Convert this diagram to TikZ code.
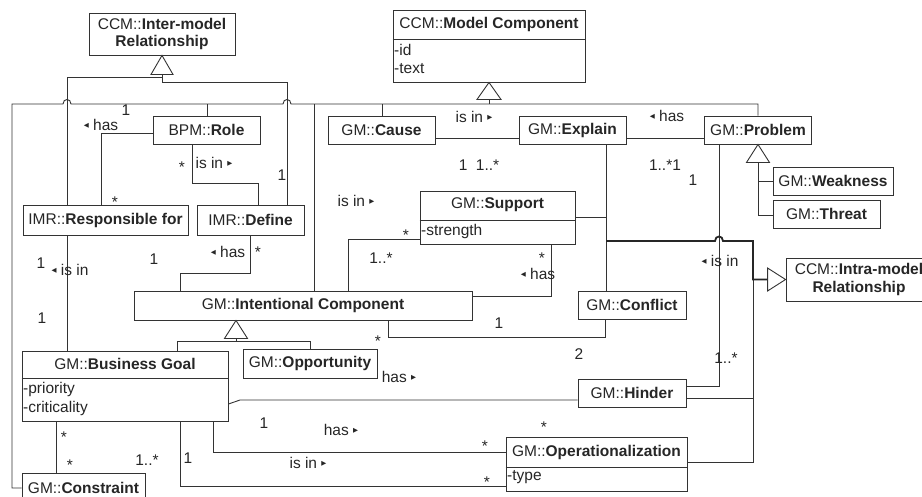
\documentclass[tikz,border=0pt]{standalone}
\usepackage{fontspec}
\setmainfont{Liberation Sans}
\newfontfamily\djv{DejaVu Sans}
\newcommand{\tril}{\raisebox{2.8pt}{\djv\fontsize{6.5}{6.5}\selectfont ◀}}
\newcommand{\trir}{\raisebox{2.8pt}{\djv\fontsize{6.5}{6.5}\selectfont ▶}}
\begin{document}
\begin{tikzpicture}[x=1pt,y=-1pt,
  box/.style={draw=black!80, line width=0.9pt, inner sep=0pt, fill=white, text=black!85},
  lbl/.style={inner sep=0pt, text=black!85},
  conn/.style={draw=black!80, line width=0.9pt},
  thickconn/.style={draw=black!85, line width=1.8pt},
  tri/.style={draw=black!80, line width=0.9pt, fill=white},
  font=\fontsize{15.5}{17.5}\selectfont]
\useasboundingbox (0,0) rectangle (922,496);

% ---------- boxes ----------
\node[box, minimum width=146pt, minimum height=42pt, align=center] (inter) at (162,34)
  {CCM::\textbf{Inter-model}\\\textbf{Relationship}};
\node[box, minimum width=192pt, minimum height=72pt] (mc) at (489,46) {};
\draw[conn] (mc.west |- 0,39) -- (mc.east |- 0,39);
\node[lbl] (mct) at (489,24) {CCM::\textbf{Model Component}};
\node[lbl, anchor=west] (mca) at (394,50) {-id};
\node[lbl, anchor=west] (mcb) at (394,69) {-text};

\node[box, minimum width=107pt, minimum height=28pt] (role) at (206.5,130) {BPM::\textbf{Role}};
\node[box, minimum width=107pt, minimum height=28pt] (cause) at (381.5,130) {GM::\textbf{Cause}};
\node[box, minimum width=107pt, minimum height=28pt] (explain) at (572.5,130) {GM::\textbf{Explain}};
\node[box, minimum width=107pt, minimum height=28pt] (problem) at (758,130) {GM::\textbf{Problem}};
\node[box, minimum width=120pt, minimum height=28pt] (weak) at (833,181) {GM::\textbf{Weakness}};
\node[box, minimum width=107pt, minimum height=28pt] (threat) at (826.5,214) {GM::\textbf{Threat}};
\node[box, minimum width=165pt, minimum height=30pt] (resp) at (105.5,220) {IMR::\textbf{Responsible for}};
\node[box, minimum width=107pt, minimum height=30pt] (define) at (250.5,220) {IMR::\textbf{Define}};

\node[box, minimum width=155pt, minimum height=53pt] (support) at (497.5,217.5) {};
\draw[conn] (support.west |- 0,220) -- (support.east |- 0,220);
\node[lbl] (supt) at (497.5,205) {GM::\textbf{Support}};
\node[lbl, anchor=west] (supa) at (421,231) {-strength};

\node[box, minimum width=338pt, minimum height=29pt] (ic) at (303,305.5) {GM::\textbf{Intentional Component}};
\node[box, minimum width=108pt, minimum height=28pt] (conflict) at (632,305) {GM::\textbf{Conflict}};
\node[box, minimum width=146pt, minimum height=43pt, align=center] (intra) at (859,279.5)
  {CCM::\textbf{Intra-model}\\\textbf{Relationship}};

\node[box, minimum width=206pt, minimum height=70pt] (bg) at (125,386) {};
\draw[conn] (bg.west |- 0,378) -- (bg.east |- 0,378);
\node[lbl] (bgt) at (125,364) {GM::\textbf{Business Goal}};
\node[lbl, anchor=west] (bga) at (23,389) {-priority};
\node[lbl, anchor=west] (bgb) at (23,408) {-criticality};

\node[box, minimum width=134pt, minimum height=29pt] (opp) at (310,363.5) {GM::\textbf{Opportunity}};
\node[box, minimum width=108pt, minimum height=28pt] (hinder) at (632,393) {GM::\textbf{Hinder}};

\node[box, minimum width=181pt, minimum height=54pt] (oper) at (596.5,464) {};
\draw[conn] (oper.west |- 0,467) -- (oper.east |- 0,467);
\node[lbl] (opert) at (596.5,452) {GM::\textbf{Operationalization}};
\node[lbl, anchor=west] (opera) at (507,477) {-type};

\node[box, minimum width=123pt, minimum height=32pt] (constraint) at (83.5,489) {};
\node[lbl] (cont) at (83.5,488) {GM::\textbf{Constraint}};

% ---------- generalization: inter-model ----------
\draw[conn] (162,74) -- (162,82);
\draw[conn] (162,77) -- (67,77) -- (67,0 |- resp.north);
\draw[conn] (162,82) -- (287,82) -- (287,0 |- define.north);
\draw[tri] (inter.south) -- ++(-11,19) -- ++(22,0) -- cycle;

% ---------- generalization: model component ----------
\draw[conn] (489,99) -- (489,104);
\draw[conn] (constraint.west |- 0,488) -- (12,488) -- (12,104) -- (63,104)
  .. controls (63,98) and (71,98) .. (71,104) -- (283,104)
  .. controls (283,98) and (291,98) .. (291,104) -- (758,104) -- (problem.north);
\draw[conn] (207,104) -- (207,0 |- role.north);
\draw[conn] (314,104) -- (314,0 |- ic.north);
\draw[conn] (382,104) -- (382,0 |- cause.north);
\draw[tri] (mc.south) -- ++(-12,17) -- ++(24,0) -- cycle;

% ---------- generalization: problem ----------
\draw[conn] (758,162) -- (758,215) -- (threat.west |- 0,215);
\draw[conn] (758,181) -- (weak.west |- 0,181);
\draw[tri] (problem.south) -- ++(-11.5,18) -- ++(23,0) -- cycle;

% ---------- generalization: intentional component ----------
\draw[conn] (236,338) -- (236,341);
\draw[conn] (177,0 |- bg.north) -- (177,341) -- (310,341) -- (310,0 |- opp.north);
\draw[tri] (236,0 |- ic.south) -- ++(-11.5,18) -- ++(23,0) -- cycle;

% ---------- generalization: intra-model ----------
\draw[conn] (606,0 |- explain.south) -- (606,0 |- conflict.north);
\draw[conn] (support.east |- 0,217) -- (606,217);
\draw[conn] (753,279) -- (753,462) -- (oper.east |- 0,462);
\draw[conn] (753,398) -- (hinder.east |- 0,398);
\draw[conn] (719,0 |- problem.south) -- (719,386) -- (hinder.east |- 0,386);
\draw[thickconn] (768,279.5) -- (753,279.5) -- (753,241) -- (723,241)
  .. controls (723,235) and (715,235) .. (715,241) -- (606,241);
\draw[tri] (intra.west) -- ++(-18,-11.5) -- ++(0,23) -- cycle;

% ---------- associations ----------
\draw[conn] (role.west |- 0,133) -- (101,133) -- (101,0 |- resp.north);
\draw[conn] (192,0 |- role.south) -- (192,183) -- (258,183) -- (258,0 |- define.north);
\draw[conn] (67,0 |- resp.south) -- (67,0 |- bg.north);
\draw[conn] (250,0 |- define.south) -- (250,273) -- (180,273) -- (180,0 |- ic.north);
\draw[conn] (cause.east |- 0,138) -- (explain.west |- 0,138);
\draw[conn] (explain.east |- 0,138) -- (problem.west |- 0,138);
\draw[conn] (support.west |- 0,239) -- (348,239) -- (348,0 |- ic.north);
\draw[conn] (551,0 |- support.south) -- (551,296) -- (ic.east |- 0,296);
\draw[conn] (388,0 |- ic.south) -- (388,337) -- (605,337) -- (605,0 |- conflict.south);
\draw[conn] (bg.east |- 0,404) -- (240,400) -- (hinder.west |- 0,400);
\draw[conn] (213,0 |- bg.south) -- (213,452) -- (oper.west |- 0,452);
\draw[conn] (180,0 |- bg.south) -- (180,486) -- (oper.west |- 0,486);
\draw[conn] (56,0 |- bg.south) -- (56,0 |- constraint.north);

% ---------- labels ----------
\node[lbl] (l1) at (126,110) {1};
\node[lbl] (l2) at (101,125) {\tril~has};
\node[lbl] (l3) at (115,202) {*};
\node[lbl] (l4) at (182,167) {*};
\node[lbl] (l5) at (214,163) {is in~\trir};
\node[lbl] (l6) at (282,175) {1};
\node[lbl] (l7) at (41,263) {1};
\node[lbl] (l7b) at (70,270) {\tril~is in};
\node[lbl] (l8) at (42,318) {1};
\node[lbl] (l9) at (154,259) {1};
\node[lbl] (l10) at (228,252) {\tril~has};
\node[lbl] (l11) at (258,252) {*};
\node[lbl] (l12) at (474,117) {is in~\trir};
\node[lbl] (l13) at (479,165) {1~~1..*};
\node[lbl] (l14) at (667,116) {\tril~has};
\node[lbl] (l15) at (665,165) {1..*1};
\node[lbl] (l16) at (693,180) {1};
\node[lbl] (l17) at (356,201) {is in~\trir};
\node[lbl] (l18) at (406,235) {*};
\node[lbl] (l19) at (381,258) {1..*};
\node[lbl] (l20) at (542,258) {*};
\node[lbl] (l21) at (538,274) {\tril~has};
\node[lbl] (l22) at (378,341) {*};
\node[lbl] (l23) at (499,323) {1};
\node[lbl] (l24) at (579,354) {2};
\node[lbl] (l25) at (720,261) {\tril~is in};
\node[lbl] (l26) at (726,358) {1..*};
\node[lbl] (l27) at (399,377) {has~\trir};
\node[lbl] (l28) at (264,423) {1};
\node[lbl] (l29) at (341,430) {has~\trir};
\node[lbl] (l30) at (544,427) {*};
\node[lbl] (l31) at (485,446) {*};
\node[lbl] (l32) at (188,458) {1};
\node[lbl] (l33) at (308,463) {is in~\trir};
\node[lbl] (l34) at (487,482) {*};
\node[lbl] (l35) at (64,437) {*};
\node[lbl] (l36) at (70,465) {*};
\node[lbl] (l37) at (147,460) {1..*};
\end{tikzpicture}
\end{document}
